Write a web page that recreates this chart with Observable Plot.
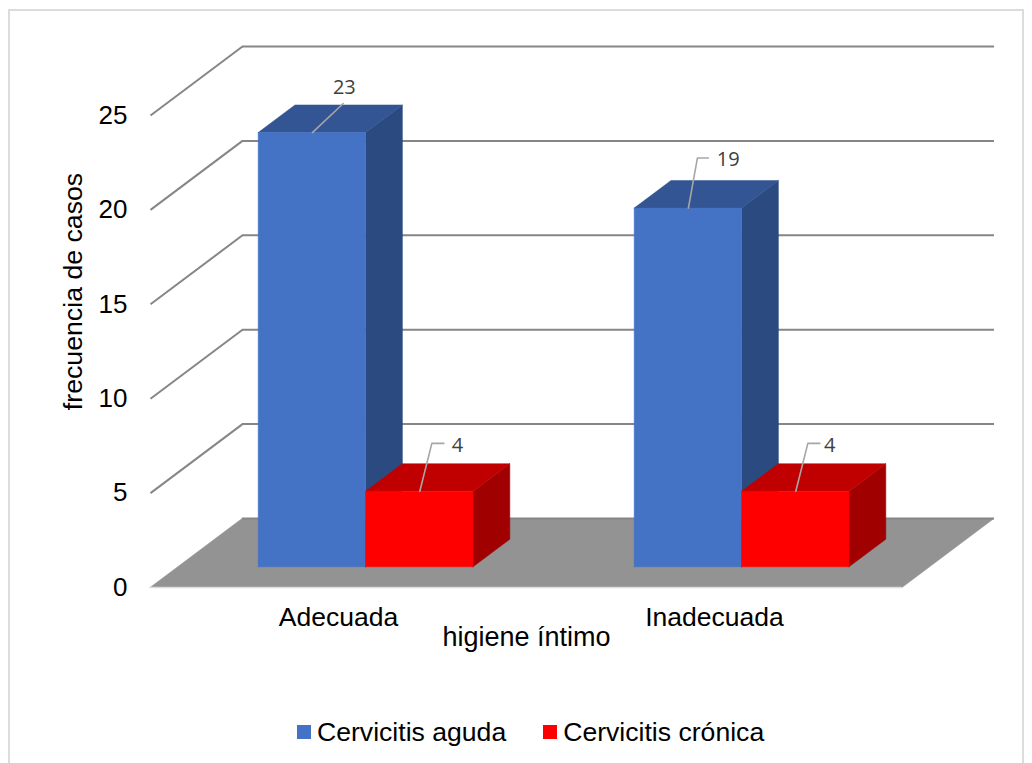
<!DOCTYPE html>
<html lang="es">
<head>
<meta charset="utf-8">
<title>Cervicitis según higiene íntimo</title>
<script src="https://cdn.jsdelivr.net/npm/d3@7"></script>
<script src="https://cdn.jsdelivr.net/npm/@observablehq/plot@0.6"></script>
<style>
  html, body { margin: 0; padding: 0; background: #fff; overflow: hidden; }
  #page { position: relative; width: 1032px; height: 763px; overflow: hidden; font-family: "Liberation Sans", Arial, sans-serif; }
  #frame { position: absolute; left: 8px; top: 9px; width: 1012px; height: 780px; border: 2px solid #dcdcdc; box-sizing: content-box; }
  #chart { position: absolute; left: 0; top: 0; }
  #chart svg { display: block; }
  #legend { position: absolute; left: 297px; top: 715px; display: flex; align-items: center; font-size: 26.6px; line-height: 34px; color: #000; white-space: nowrap; }
  #legend i { display: inline-block; width: 14px; height: 14px; margin-right: 6px; }
  #legend span { display: inline-flex; align-items: center; margin-right: 37px; }
</style>
</head>
<body>
<div id="page">
  <div id="frame"></div>
  <div id="chart"></div>
  <div id="legend"></div>
</div>
<script>
// Chart values
const categories = ["Adecuada", "Inadecuada"];
const seriesNames = ["Cervicitis aguda", "Cervicitis crónica"];
const aguda = [23, 19];
const cronica = [4, 4];
const valueTicks = [0, 5, 10, 15, 20, 25];

// Oblique projection: one unit of depth shifts a point right and upward.
const depthX = 0.2447;   // in category widths
const depthY = 3.655;    // in value units
const barWidth = 1 / 3.5;
const barFront = 0.3, barBack = 0.7;
const P = (u, v, d = 0) => ({x: u + d * depthX, y: v + d * depthY});

const palettes = [
  {front: "#4472c4", top: "#335593", side: "#2a4a80"},
  {front: "#ff0000", top: "#c00000", side: "#a00000"}
];
const seriesValues = [aguda, cronica];

// A filled face of the box drawn as a closed line
const face = (pts, fill) => Plot.line([...pts, pts[0]], {x: "x", y: "y", fill, stroke: fill, strokeWidth: 0.5, dx: -0.5});

function barFaces(cat, s, value) {
  const u0 = cat + 0.5 - barWidth + s * barWidth, u1 = u0 + barWidth;
  const c = palettes[s];
  return [
    face([P(u1, 0, barFront), P(u1, 0, barBack), P(u1, value, barBack), P(u1, value, barFront)], c.side),
    face([P(u0, value, barFront), P(u1, value, barFront), P(u1, value, barBack), P(u0, value, barBack)], c.top),
    face([P(u0, 0, barFront), P(u1, 0, barFront), P(u1, value, barFront), P(u0, value, barFront)], c.front)
  ];
}

// Value labels sit on short leader lines, offset from the middle of each bar's top edge.
const leaderShapes = [
  [{elbow: [0.082, 1.54], end: [0.082, 1.54], text: [0.085, 2.4]},
   {elbow: [0.024, 2.65], end: [0.053, 2.65], text: [0.106, 2.55]}],
  [{elbow: [0.032, 2.54], end: [0.064, 2.54], text: [0.1, 2.4]},
   {elbow: [0.032, 2.54], end: [0.064, 2.54], text: [0.09, 2.4]}]
];

function valueLabel(cat, s, value) {
  const mid = cat + 0.5 - barWidth + (s + 0.5) * barWidth;
  const start = P(mid, value, barFront);
  const shape = leaderShapes[s][cat];
  const at = ([dx, dv]) => ({x: start.x + dx, y: start.y + dv});
  return [
    Plot.line([start, at(shape.elbow), at(shape.end)], {x: "x", y: "y", stroke: "#a6a6a6", strokeWidth: 1.6}),
    Plot.text([at(shape.text)], {x: "x", y: "y", text: () => String(value), fontSize: 20, fill: "#404040", fontFamily: "Open Sans"})
  ];
}

const bars = [];
const labels = [];
categories.forEach((_, cat) => {
  seriesValues.forEach((vals, s) => {
    bars.push(...barFaces(cat, s, vals[cat]));
    labels.push(...valueLabel(cat, s, vals[cat]));
  });
});

const n = categories.length;
const plot = Plot.plot({
  width: 1032,
  height: 700,
  marginLeft: 150,
  marginRight: 38,
  marginTop: 46,
  marginBottom: 113,
  x: {domain: [0, n + depthX]},
  y: {domain: [0, 25 + depthY]},
  style: {fontFamily: "'Liberation Sans', Arial, sans-serif", color: "#000", background: "transparent"},
  marks: [
    // floor
    face([P(0, 0), P(n, 0), P(n, 0, 1), P(0, 0, 1)], "#939393"),
    Plot.ruleY([0], {x1: 0, x2: n, stroke: "#dcdcdc", strokeWidth: 1.5}),
    // wall gridlines and their diagonals along the side
    Plot.ruleY(valueTicks, {x1: depthX, x2: n + depthX, y: d => d + depthY, stroke: "#868686", strokeWidth: 2}),
    Plot.link(valueTicks.slice(1), {x1: 0, y1: d => d, x2: depthX, y2: d => d + depthY, stroke: "#868686", strokeWidth: 2}),
    ...bars,
    ...labels,
    Plot.axisY(valueTicks, {tickSize: 0, tickPadding: 23, fontSize: 26, label: null}),
    Plot.axisX(categories.map((_, i) => i + 0.5), {
      tickSize: 0, tickPadding: 20, fontSize: 26.5, label: null,
      tickFormat: d => categories[Math.floor(d)]
    }),
    Plot.text(["frecuencia de casos"], {x: -0.205, y: 15.68, text: d => d, rotate: -90, fontSize: 26.7}),
    Plot.text(["higiene íntimo"], {x: 1, y: -2.65, text: d => d, fontSize: 27})
  ]
});
document.getElementById("chart").appendChild(plot);

// Legend below the plot
const legend = document.getElementById("legend");
seriesNames.forEach((name, s) => {
  const item = document.createElement("span");
  const key = document.createElement("i");
  key.style.background = palettes[s].front;
  item.append(key, name);
  legend.appendChild(item);
});
</script>
</body>
</html>
